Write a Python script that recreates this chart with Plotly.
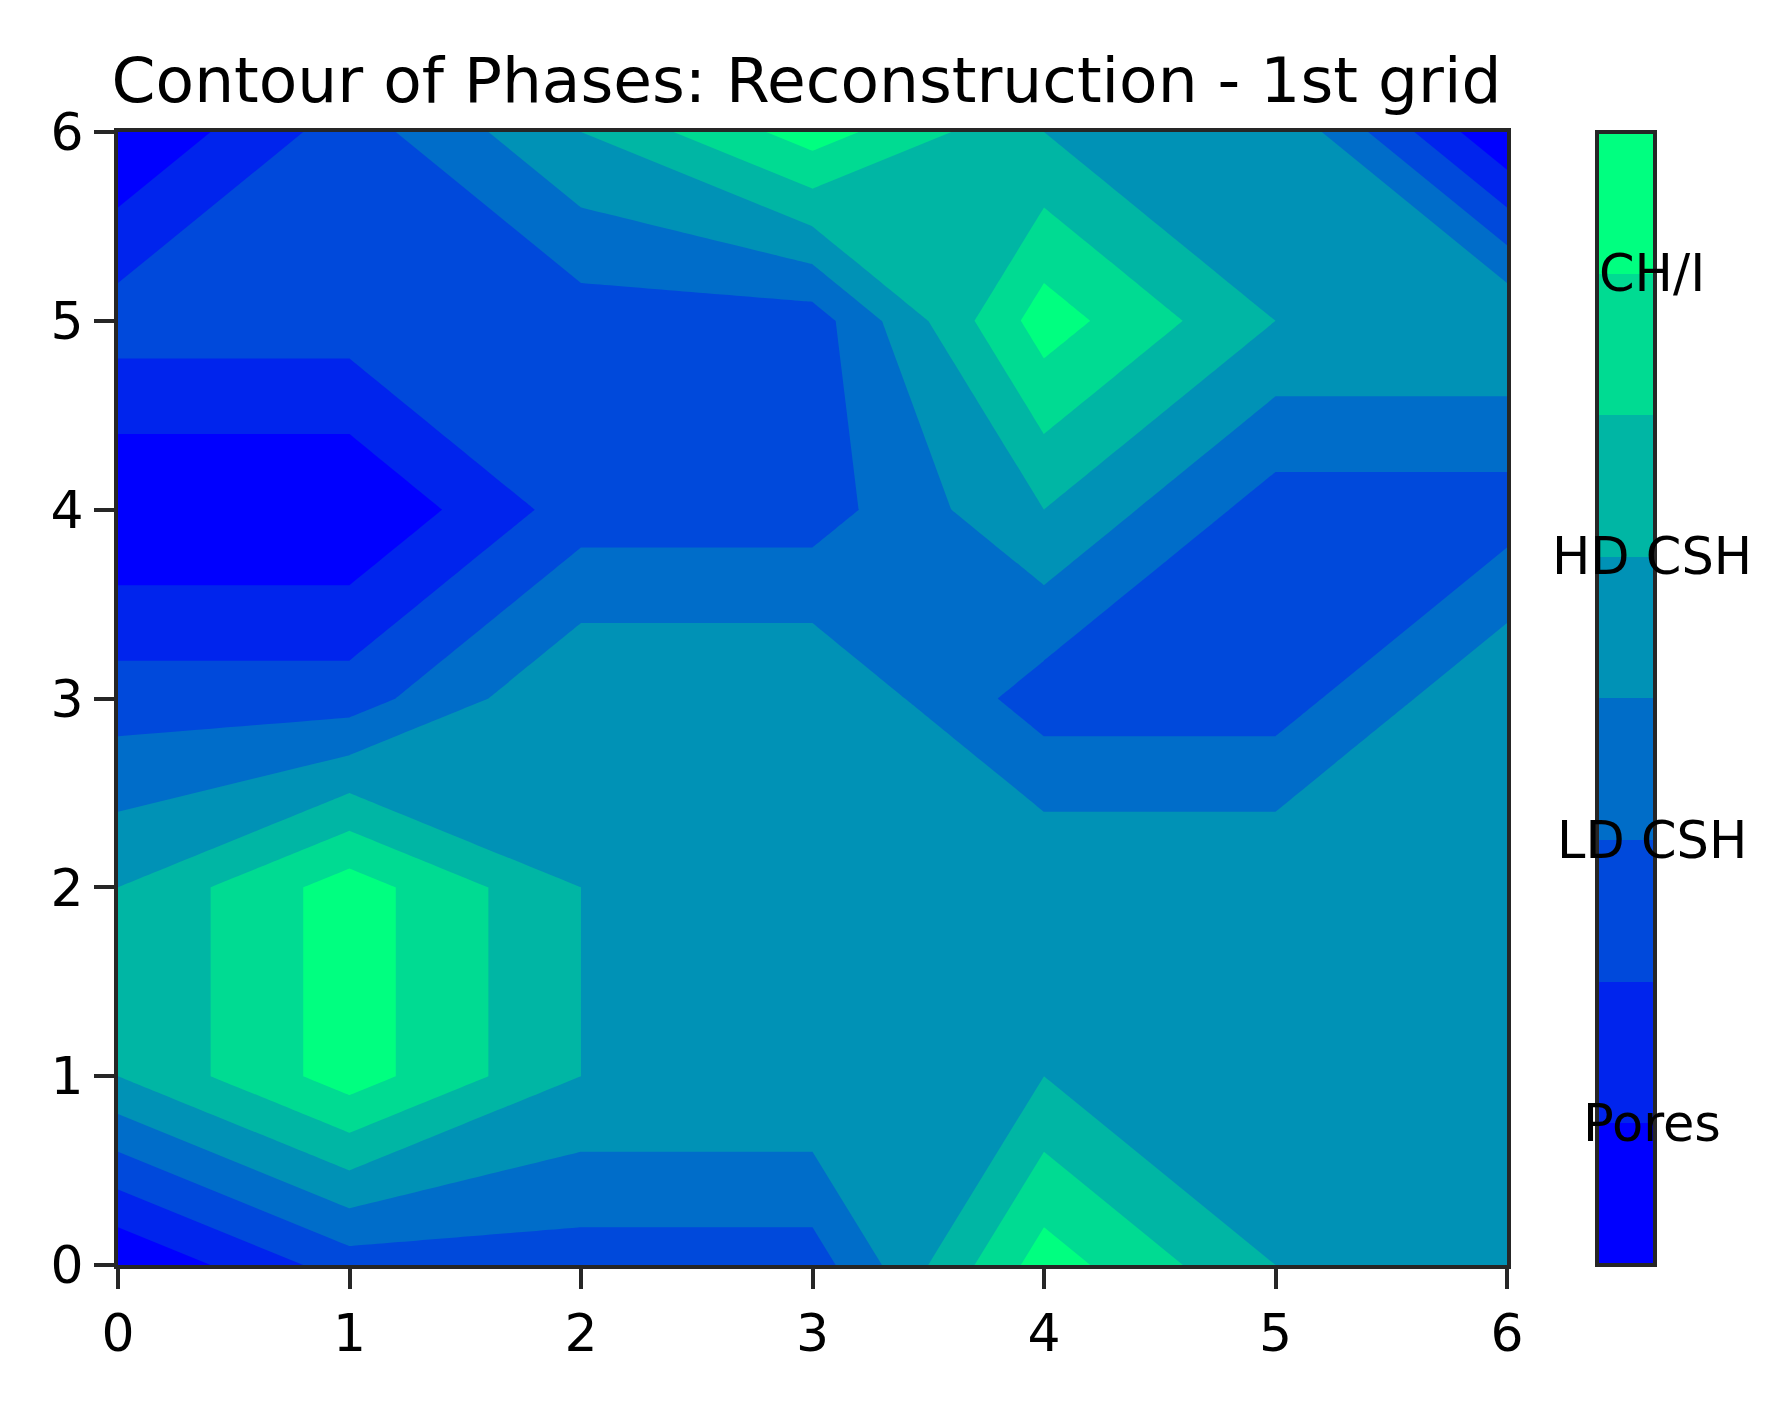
import plotly.graph_objects as go

# grid coordinates
x_vals = [0, 1, 2, 3, 4, 5, 6]
y_vals = [0, 1, 2, 3, 4, 5, 6]

# phase index at each grid node (0=Pores, 1=LD CSH, 2=HD CSH, 3=CH/I), one list per y row
row_y0 = [0, 1, 1, 1, 3, 2, 2]
row_y1 = [2, 3, 2, 2, 2, 2, 2]
row_y2 = [2, 3, 2, 2, 2, 2, 2]
row_y3 = [1, 1, 2, 2, 1, 1, 2]
row_y4 = [0, 0, 1, 1, 2, 1, 1]
row_y5 = [1, 1, 1, 1, 3, 2, 2]
row_y6 = [0, 1, 2, 3, 2, 2, 0]

# colorbar labels and their positions (value units)
phase_labels = ["Pores", "LD CSH", "HD CSH", "CH/I"]
phase_ticks = [0.4, 1.2, 2.0, 2.8]

# contour levels
level_start = 0.4
level_end = 2.8
level_step = 0.4
cbar_min = 0.0
cbar_max = 3.2

z = [row_y0, row_y1, row_y2, row_y3, row_y4, row_y5, row_y6]

# 'winter' colormap sampled at the 8 filled bands
n_bands = 8
band_colors = []
for k in range(n_bands):
    t = k / (n_bands - 1)
    band_colors.append("rgb(0,%d,%d)" % (round(255 * t), round(255 * (1 - 0.5 * t))))
stepped = []
for k, c in enumerate(band_colors):
    stepped.append([k / n_bands, c])
    stepped.append([(k + 1) / n_bands, c])

W, H = 1779, 1398          # page body has an 8px margin
L, T = 110, 124
PW, PH = 1389, 1133
R = W - L - PW
B = H - T - PH

FONT = "DejaVu Sans"
EDGE = "#262626"

fig = go.Figure()
fig.add_trace(go.Contour(
    x=x_vals, y=y_vals, z=z,
    autocontour=False,
    contours=dict(start=level_start + 1e-4, end=level_end + 1e-4, size=level_step,
                  coloring="fill", showlines=False),
    line=dict(width=0, smoothing=0),
    colorscale=[[0, "#0000ff"], [1, "#00ff80"]],
    showscale=False,
    hoverinfo="skip",
))

# colorbar carrier (no visible marks)
fig.add_trace(go.Scatter(
    x=[None], y=[None], mode="markers", hoverinfo="skip",
    marker=dict(
        color=[cbar_min], cmin=cbar_min, cmax=cbar_max, colorscale=stepped,
        showscale=True,
        colorbar=dict(
            thickness=58, thicknessmode="pixels",
            len=1, lenmode="fraction",
            x=(1588.5 - L) / PW, xanchor="left", xpad=0, ypad=0,
            y=0.5, yanchor="middle",
            outlinewidth=4, outlinecolor=EDGE,
            showticklabels=False, ticks="",
        ),
    ),
))

cb_center_x = (1644 - L) / PW
for lab, tv in zip(phase_labels, phase_ticks):
    fig.add_annotation(
        x=cb_center_x, y=(tv - cbar_min) / (cbar_max - cbar_min),
        xref="paper", yref="paper", text=lab, showarrow=False,
        xanchor="center", yanchor="middle",
        font=dict(family=FONT, size=51, color="black"),
    )

axis_common = dict(
    range=[0, 6], tickvals=x_vals, ticks="outside", ticklen=20, tickwidth=4,
    tickcolor=EDGE, showline=True, linewidth=4, linecolor=EDGE,
    mirror=True, showgrid=False, zeroline=False,
    tickfont=dict(family=FONT, size=52, color="black"),
)

fig.update_layout(
    width=W, height=H, autosize=False,
    margin=dict(l=L, r=R, t=T, b=B),
    paper_bgcolor="white", plot_bgcolor="white",
    title=dict(text="Contour of Phases: Reconstruction - 1st grid",
               x=(798.5 - L) / PW, xref="paper", xanchor="center",
               y=1 - 72.2 / H, yref="container", yanchor="middle",
               font=dict(family=FONT, size=63, color="black")),
    xaxis=dict(**axis_common),
    yaxis=dict(**axis_common),
    showlegend=False,
)

fig.write_html("out.html")
